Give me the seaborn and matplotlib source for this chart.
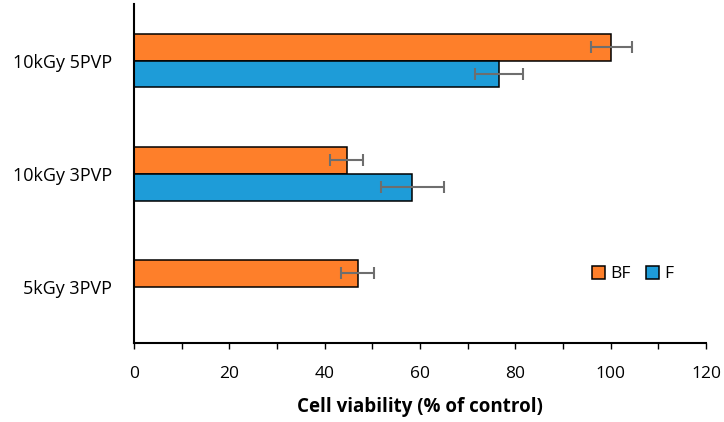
import matplotlib
matplotlib.use("Agg")
import matplotlib.pyplot as plt
import seaborn as sns
import pandas as pd

categories = ["10kGy 5PVP", "10kGy 3PVP", "5kGy 3PVP"]
series = ["BF", "F"]
bf_values = [100.1, 44.6, 46.9]
bf_errors = [4.3, 3.5, 3.4]
f_values = [76.6, 58.4, None]
f_errors = [5.0, 6.6, None]
x_ticks = [0, 20, 40, 60, 80, 100, 120]
colors = {"BF": "#FE7F2A", "F": "#1E9CD8"}

rows = []
for c, v, e in zip(categories, bf_values, bf_errors):
    rows.append({"cat": c, "grp": "BF", "val": v, "err": e})
for c, v, e in zip(categories, f_values, f_errors):
    if v is not None:
        rows.append({"cat": c, "grp": "F", "val": v, "err": e})
df = pd.DataFrame(rows)

sns.set_style("white")
plt.rcParams["font.family"] = ["Open Sans", "DejaVu Sans"]
plt.rcParams["text.color"] = "black"
plt.rcParams["xtick.color"] = "black"
plt.rcParams["ytick.color"] = "black"
plt.rcParams["axes.labelcolor"] = "black"

fig = plt.figure(figsize=(7.24, 4.22), dpi=100)
ax = fig.add_axes([134 / 724, 1 - 343.3 / 422, 572 / 724, 339.3 / 422])

sns.barplot(data=df, x="val", y="cat", hue="grp", order=categories,
            hue_order=series, palette=colors, orient="h", width=0.476,
            edgecolor="black", linewidth=1.1, errorbar=None, ax=ax,
            saturation=1, legend=True)

err_lookup = {(r.cat, r.grp): r.err for r in df.itertuples()}
for cont, grp in zip(ax.containers, series):
    for bar in cont:
        yc = bar.get_y() + bar.get_height() / 2
        idx = int(round(yc))
        e = err_lookup.get((categories[idx], grp))
        if e is None:
            continue
        ax.errorbar(bar.get_width(), yc, xerr=e, fmt="none", ecolor="#6E6E6E",
                    elinewidth=1.5, capsize=4.5, capthick=1.5, zorder=5)

ax.set_xlim(0, 120)
ax.set_ylim(2.5, -0.5)
ax.set_xticks(x_ticks)
ax.set_xticks(range(0, 121, 10), minor=True)
ax.tick_params(axis="x", which="both", direction="out", length=4.5, width=1,
               color="black", bottom=True, labelsize=12.5, pad=12)
ax.tick_params(axis="y", length=0, labelsize=13, pad=16)
ax.set_xlabel("Cell viability (% of control)", fontsize=13.5, fontweight="bold",
              labelpad=11)
ax.set_ylabel("")

for s in ["top", "right"]:
    ax.spines[s].set_visible(False)
for s in ["left", "bottom"]:
    ax.spines[s].set_visible(True)
    ax.spines[s].set_color("black")
    ax.spines[s].set_linewidth(1.5)

handles, labels = ax.get_legend_handles_labels()
ax.legend(handles, labels, loc="center left", bbox_to_anchor=(0.80, 0.204),
          ncol=2, frameon=False, fontsize=12.5, handlelength=0.75,
          handleheight=0.75, handletextpad=0.3, columnspacing=0.9,
          borderpad=0, borderaxespad=0)

fig.savefig("out.png", dpi=100)
